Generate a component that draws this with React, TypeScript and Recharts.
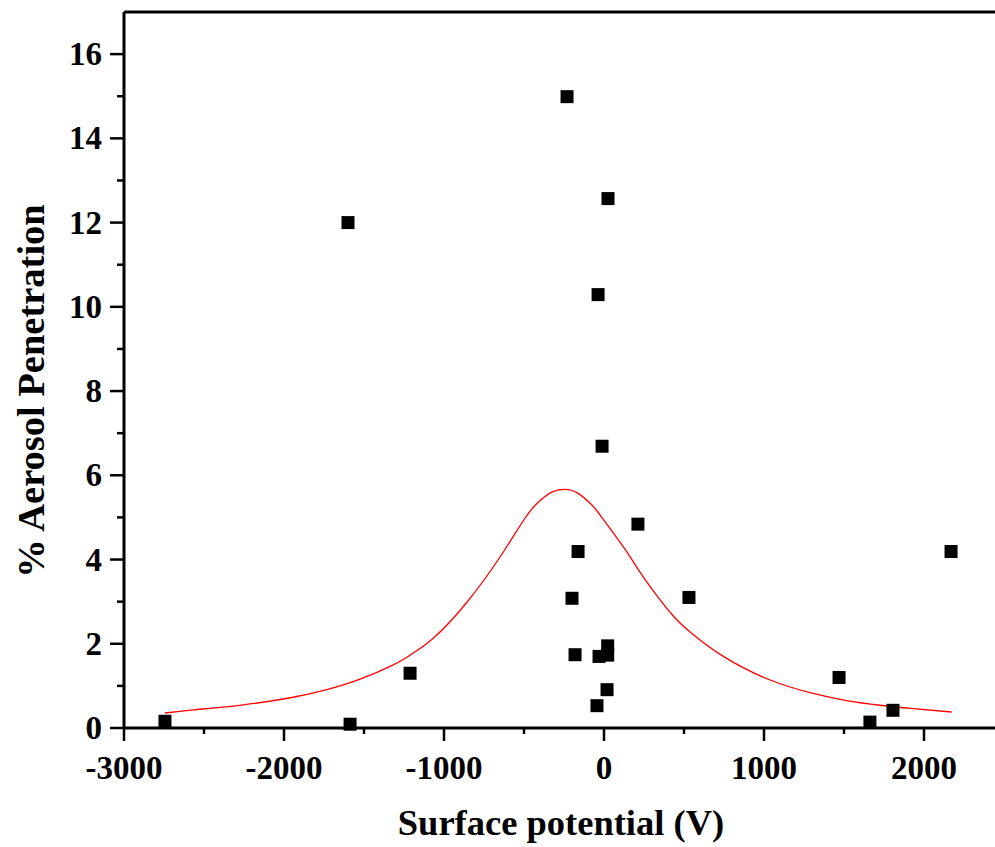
import React from 'react';
import { ComposedChart, XAxis, YAxis, Scatter, Line, Label } from 'recharts';

// measured samples (square markers)
const pointX = [-2744, -1600, -1587, -1212, -231, 25, -37, -12, 212, -162, -200, 531, 2169, -181, -31, 23, 23, 19, -44, 1469, 1662, 1806];
const pointY = [0.16, 12.0, 0.09, 1.3, 14.99, 12.57, 10.29, 6.69, 4.84, 4.19, 3.08, 3.1, 4.19, 1.74, 1.7, 1.95, 1.73, 0.91, 0.53, 1.2, 0.14, 0.42];

// fitted curve (red)
const fitX = [-2744, -2567, -2254, -1942, -1733, -1525, -1317, -1212, -1067, -858, -650, -494, -411, -327, -244, -161, -77, -25, 121, 225, 329, 433, 538, 746, 1038, 1308, 1517, 1725, 1933, 2173];
const fitY = [0.356, 0.43, 0.55, 0.73, 0.91, 1.16, 1.5, 1.73, 2.13, 2.98, 4.06, 4.98, 5.36, 5.6, 5.667, 5.57, 5.3, 5.06, 4.3, 3.7, 3.15, 2.66, 2.28, 1.7, 1.14, 0.82, 0.65, 0.54, 0.46, 0.38];

const xTicks = [-3000, -2500, -2000, -1500, -1000, -500, 0, 500, 1000, 1500, 2000, 2500];
const yTicks = [0, 1, 2, 3, 4, 5, 6, 7, 8, 9, 10, 11, 12, 13, 14, 15, 16];

const points = pointX.map((x, i) => ({ x, y: pointY[i] }));
const fit = fitX.map((x, i) => ({ x, y: fitY[i] }));

const FONT = '"Liberation Serif", "Times New Roman", serif';

const BottomTick = ({ x, y, payload }: any) => {
  const major = payload.value % 1000 === 0;
  return (
    <g>
      <line x1={x} x2={x} y1={y} y2={y + (major ? 13 : 6)} stroke="#000" strokeWidth={2.5} />
      {major && (
        <text x={x} y={y + 51} textAnchor="middle" fontFamily={FONT} fontWeight="bold" fontSize={33} fill="#000">
          {payload.value}
        </text>
      )}
    </g>
  );
};

const TopTick = ({ x, y, payload }: any) => {
  const major = payload.value % 1000 === 0;
  return <line x1={x} x2={x} y1={y} y2={y + (major ? 14 : 7)} stroke="#000" strokeWidth={2.5} />;
};

const LeftTick = ({ x, y, payload }: any) => {
  const major = payload.value % 2 === 0;
  return (
    <g>
      <line x1={x - (major ? 14 : 7)} x2={x} y1={y} y2={y} stroke="#000" strokeWidth={2.5} />
      {major && (
        <text x={x - 22} y={y + 11} textAnchor="end" fontFamily={FONT} fontWeight="bold" fontSize={33} fill="#000">
          {payload.value}
        </text>
      )}
    </g>
  );
};

const RightTick = ({ x, y, payload }: any) => {
  const major = payload.value % 2 === 0;
  return <line x1={x - (major ? 14 : 7)} x2={x} y1={y} y2={y} stroke="#000" strokeWidth={2.5} />;
};

const Square = ({ cx, cy }: any) => <rect x={cx - 6.5} y={cy - 6.5} width={13} height={13} fill="#000" />;

const axisLine = { stroke: '#000', strokeWidth: 3 };

export default function App() {
  return (
    <div style={{ position: 'absolute', left: 0, top: 0, width: 995, height: 847, overflow: 'hidden', background: '#fff' }}>
      <ComposedChart width={1010} height={847} margin={{ top: 12, right: 6, left: 0, bottom: 0 }}>
        <XAxis
          xAxisId="bottom"
          type="number"
          dataKey="x"
          domain={[-3000, 2500]}
          ticks={xTicks}
          interval={0}
          height={119}
          tickSize={0}
          tickMargin={0}
          tickLine={false}
          axisLine={axisLine}
          tick={<BottomTick />}
        >
          <Label
            content={({ viewBox }: any) => (
              <text
                x={viewBox.x + viewBox.width / 2 - 3}
                y={viewBox.y + 107}
                textAnchor="middle"
                fontFamily={FONT}
                fontWeight="bold"
                fontSize={36.5}
                fill="#000"
              >
                Surface potential (V)
              </text>
            )}
          />
        </XAxis>
        <XAxis
          xAxisId="top"
          orientation="top"
          mirror
          type="number"
          dataKey="x"
          domain={[-3000, 2500]}
          ticks={xTicks}
          interval={0}
          tickSize={0}
          tickMargin={0}
          tickLine={false}
          axisLine={axisLine}
          tick={<TopTick />}
        />
        <YAxis
          yAxisId="left"
          type="number"
          domain={[0, 17]}
          ticks={yTicks}
          interval={0}
          width={124}
          tickSize={0}
          tickMargin={0}
          tickLine={false}
          axisLine={axisLine}
          tick={<LeftTick />}
        >
          <Label
            content={() => (
              <text
                x={44}
                y={391}
                transform="rotate(-90 44 391)"
                textAnchor="middle"
                fontFamily={FONT}
                fontWeight="bold"
                fontSize={38.5}
                fill="#000"
              >
                % Aerosol Penetration
              </text>
            )}
          />
        </YAxis>
        <YAxis
          yAxisId="right"
          orientation="right"
          mirror
          type="number"
          domain={[0, 17]}
          ticks={yTicks}
          interval={0}
          tickSize={0}
          tickMargin={0}
          tickLine={false}
          axisLine={axisLine}
          tick={<RightTick />}
        />
        <Line
          xAxisId="bottom"
          yAxisId="left"
          data={fit}
          dataKey="y"
          type="natural"
          stroke="#ff0000"
          strokeWidth={1.3}
          dot={false}
          activeDot={false}
          isAnimationActive={false}
        />
        <Scatter
          xAxisId="bottom"
          yAxisId="left"
          data={points}
          dataKey="y"
          shape={<Square />}
          isAnimationActive={false}
        />
      </ComposedChart>
    </div>
  );
}
